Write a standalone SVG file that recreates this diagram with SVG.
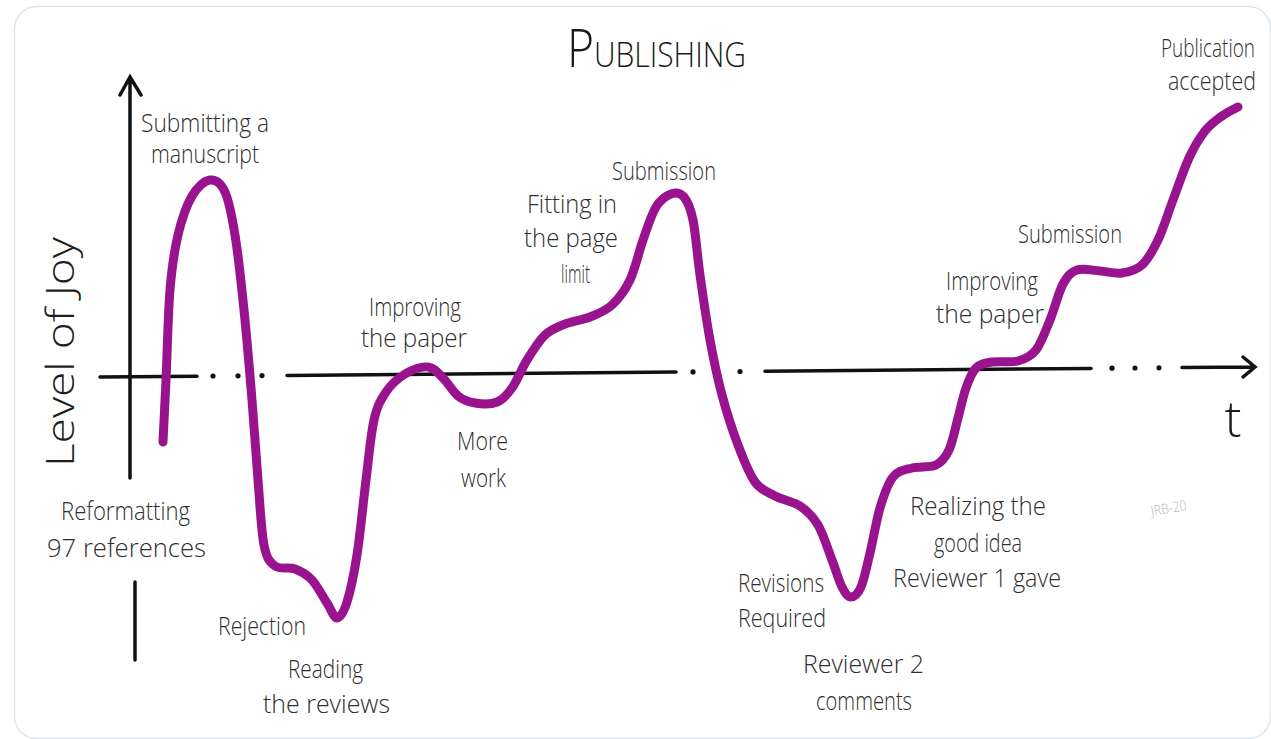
<svg xmlns="http://www.w3.org/2000/svg" width="1271" height="739" viewBox="0 0 1271 739">
<style>
.lbl{font-family:"Open Sans","Liberation Sans",sans-serif;font-size:25px;fill:#2e2e2e;font-weight:300}
.ax{stroke:#111;stroke-width:3.5;stroke-linecap:round;fill:none}
.dot{fill:#111}
.joy{fill:none;stroke:#99138f;stroke-width:9;stroke-linecap:round;stroke-linejoin:round}
</style>
<rect x="0" y="0" width="1271" height="739" fill="#ffffff"/>
<rect x="14.5" y="6.5" width="1256" height="732" rx="22" fill="#ffffff" stroke="#e0e5ea" stroke-width="1.5"/>

<g id="axes">
  <path class="ax" d="M130,478 L130,78 M120,95 L130,77 L141,95"/>
  <path class="ax" d="M135,582 L135,660"/>
  <path class="ax" d="M100,377 L197,376.2"/>
  <circle class="dot" cx="213" cy="376" r="2.6"/>
  <circle class="dot" cx="238" cy="375.8" r="2.6"/>
  <circle class="dot" cx="262" cy="375.6" r="2.6"/>
  <path class="ax" d="M287,375.4 L676,372"/>
  <circle class="dot" cx="693" cy="371.9" r="2.6"/>
  <circle class="dot" cx="740" cy="371.5" r="2.6"/>
  <path class="ax" d="M765,371.2 L1091,368.4"/>
  <circle class="dot" cx="1112" cy="368.2" r="2.6"/>
  <circle class="dot" cx="1135" cy="368" r="2.6"/>
  <circle class="dot" cx="1159" cy="367.8" r="2.6"/>
  <path class="ax" d="M1182,367.6 L1255,367 M1243,357 L1255,367 L1243,377"/>
</g>

<g id="connectors">
  <path id="joy-curve" class="joy" d="M163,442 C163.5,431.7 164.8,405.3 166,380 S168,314.2 170,290 S174.3,250.7 178,235 S186.7,205.2 192,196 S204.5,180.7 210,180 S220.8,182.8 225,192 S231.8,215.3 235,235 S241.2,282.5 244,310 S249.7,371.7 252,400 S256,455.8 258,480 S261.2,530.7 264,545 S269.8,562 275,566 S288.8,566.7 295,569 S306.7,574.3 312,580 S322.8,596.7 327,603 S333.7,618.2 337,618 S343.7,612.5 347,602 S353.8,575.3 357,555 S363.2,502.5 366,480 S370.7,434.7 374,420 S380.8,399.7 386,392 S398,378.2 405,374 S421.7,366.3 428,367 S438,373.2 443,378 S452.7,391.8 458,396 S468.5,402 475,403 S490.8,404.5 497,402 S507,395 512,388 S521.5,368.8 527,360 S538.7,341 545,335 S557.5,327 565,324 S582.2,320.2 590,317 S605.3,311.2 612,305 S624.8,290.8 630,280 S638.7,252.2 643,240 S651.3,214.7 656,207 S666.3,195.7 671,194 S680.3,192.7 684,197 S690.3,207 693,220 S697.2,255 700,275 S706.3,320 710,340 S717.3,377.5 722,395 S732.5,430.5 738,445 S748.8,473.5 755,482 S767.5,492 775,496 S792.8,501.2 800,506 S812.7,516 818,525 S828,549.7 832,560 S838.8,580.8 842,587 S847.8,597 851,597 S857.8,594.3 861,587 S866.8,566.2 870,553 S876.2,520.7 880,508 S887.7,483.7 893,477 S904.8,470 912,468 S929.8,468 936,465 S945.3,457.8 949,450 S955.2,428.3 958,418 S963,396.3 966,388 S971.7,372.3 976,368 S985,363.2 992,362 S1010.7,363 1018,361 S1030.7,356.8 1036,350 S1045.5,331 1050,320 S1058.5,292.3 1063,284 S1070.8,272.2 1077,270 S1092.5,270.5 1100,271 S1115,274 1122,273 S1136,270.5 1142,265 S1152.8,250.8 1158,240 S1167.8,213.7 1173,200 S1183.7,169.5 1189,158 S1199.5,138 1205,131 S1216.5,120 1222,116 S1235.3,108.5 1238,107"/>
</g>

<g id="title"><text class="lbl" x="567" y="67" textLength="179" lengthAdjust="spacingAndGlyphs" style="fill:#1a1a1a"><tspan font-size="54" style="font-size:54px">P</tspan><tspan style="font-size:35px">UBLISHING</tspan></text></g>

<g id="y-label"><text class="lbl" transform="translate(74,352) rotate(-90)" text-anchor="middle" style="font-size:38px;fill:#1f1f1f;font-weight:300" textLength="230" lengthAdjust="spacingAndGlyphs">Level of Joy</text></g>

<g id="x-label"><text class="lbl" x="1233" y="437" text-anchor="middle" style="font-size:50px;fill:#1a1a1a">t</text></g>

<g id="n-submitting">
  <text class="lbl" x="141" y="132" textLength="128" lengthAdjust="spacingAndGlyphs">Submitting a</text>
  <text class="lbl" x="151" y="163" textLength="108" lengthAdjust="spacingAndGlyphs">manuscript</text>
</g>
<g id="n-reformatting">
  <text class="lbl" x="61" y="520" textLength="129" lengthAdjust="spacingAndGlyphs">Reformatting</text>
  <text class="lbl" x="47" y="557" textLength="159" lengthAdjust="spacingAndGlyphs">97 references</text>
</g>
<g id="n-rejection">
  <text class="lbl" x="218" y="635" textLength="88" lengthAdjust="spacingAndGlyphs">Rejection</text>
</g>
<g id="n-reading">
  <text class="lbl" x="288" y="678" textLength="75" lengthAdjust="spacingAndGlyphs">Reading</text>
  <text class="lbl" x="263" y="713" textLength="127" lengthAdjust="spacingAndGlyphs">the reviews</text>
</g>
<g id="n-improving-1">
  <text class="lbl" x="369" y="316" textLength="92" lengthAdjust="spacingAndGlyphs">Improving</text>
  <text class="lbl" x="361" y="347" textLength="106" lengthAdjust="spacingAndGlyphs">the paper</text>
</g>
<g id="n-more-work">
  <text class="lbl" x="457" y="450" textLength="51" lengthAdjust="spacingAndGlyphs">More</text>
  <text class="lbl" x="461" y="487" textLength="45" lengthAdjust="spacingAndGlyphs">work</text>
</g>
<g id="n-fitting">
  <text class="lbl" x="527" y="213" textLength="90" lengthAdjust="spacingAndGlyphs">Fitting in</text>
  <text class="lbl" x="524" y="247" textLength="94" lengthAdjust="spacingAndGlyphs">the page</text>
  <text class="lbl" x="561" y="283" textLength="29" lengthAdjust="spacingAndGlyphs">limit</text>
</g>
<g id="n-submission-1">
  <text class="lbl" x="612" y="180" textLength="104" lengthAdjust="spacingAndGlyphs">Submission</text>
</g>
<g id="n-revisions">
  <text class="lbl" x="738" y="592" textLength="86" lengthAdjust="spacingAndGlyphs">Revisions</text>
  <text class="lbl" x="738" y="627" textLength="88" lengthAdjust="spacingAndGlyphs">Required</text>
</g>
<g id="n-reviewer2">
  <text class="lbl" x="803" y="673" textLength="121" lengthAdjust="spacingAndGlyphs">Reviewer 2</text>
  <text class="lbl" x="816" y="710" textLength="96" lengthAdjust="spacingAndGlyphs">comments</text>
</g>
<g id="n-realizing">
  <text class="lbl" x="910" y="515" textLength="136" lengthAdjust="spacingAndGlyphs">Realizing the</text>
  <text class="lbl" x="934" y="552" textLength="88" lengthAdjust="spacingAndGlyphs">good idea</text>
  <text class="lbl" x="893" y="587" textLength="168" lengthAdjust="spacingAndGlyphs">Reviewer 1 gave</text>
</g>
<g id="n-improving-2">
  <text class="lbl" x="946" y="290" textLength="92" lengthAdjust="spacingAndGlyphs">Improving</text>
  <text class="lbl" x="936" y="323" textLength="108" lengthAdjust="spacingAndGlyphs">the paper</text>
</g>
<g id="n-submission-2">
  <text class="lbl" x="1018" y="243" textLength="104" lengthAdjust="spacingAndGlyphs">Submission</text>
</g>
<g id="n-accepted">
  <text class="lbl" x="1161" y="57" textLength="94" lengthAdjust="spacingAndGlyphs">Publication</text>
  <text class="lbl" x="1168" y="90" textLength="88" lengthAdjust="spacingAndGlyphs">accepted</text>
</g>
<g id="signature">
  <text class="lbl" x="1151" y="513" textLength="36" lengthAdjust="spacingAndGlyphs" transform="rotate(-10 1169 510)" style="font-size:14px;fill:#b5b5b5">JRB-20</text>
</g>
</svg>
